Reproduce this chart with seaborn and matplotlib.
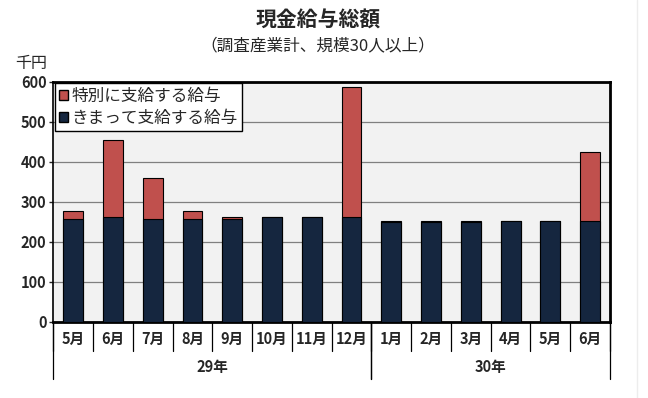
import numpy as np
import pandas as pd
import matplotlib
matplotlib.use('Agg')
import matplotlib.pyplot as plt
import seaborn as sns
from matplotlib.patches import Patch
from matplotlib.lines import Line2D

# 月・年ラベル
months = ['5月', '6月', '7月', '8月', '9月', '10月', '11月', '12月',
          '1月', '2月', '3月', '4月', '5月', '6月']
years = ['29年'] * 8 + ['30年'] * 6
# きまって支給する給与（千円）
regular = [258, 263, 258, 258, 258, 261, 261, 261, 249, 249, 249, 251, 251, 253]
# 特別に支給する給与（千円）
special = [18, 192, 102, 18, 3, 2, 2, 326, 4, 2, 4, 2, 2, 171]

df = pd.DataFrame({'key': [y + m for y, m in zip(years, months)],
                   'regular': regular, 'special': special})
df['total'] = df['regular'] + df['special']

red = '#c0504d'
navy = '#15263f'

sns.set_style('white')
plt.rcParams['font.family'] = ['Noto Sans CJK JP', 'DejaVu Sans']

fig = plt.figure(figsize=(6.48, 3.98), dpi=100)
ax = fig.add_axes([0.0823, 0.1917, 0.859, 0.603])
ax.set_facecolor('#f2f2f2')

sns.barplot(data=df, x='key', y='total', color=red, width=0.5,
            edgecolor='black', linewidth=0.8, saturation=1, ax=ax, zorder=2)
sns.barplot(data=df, x='key', y='regular', color=navy, width=0.5,
            edgecolor='black', linewidth=0.8, saturation=1, ax=ax, zorder=3)

ax.set_ylim(0, 600)
ax.set_xlim(-0.5, len(months) - 0.5)
ax.set_yticks(range(0, 601, 100))
ax.tick_params(axis='y', labelsize=10.5, length=3, width=1, direction='out',
               left=True, pad=2)
for t in ax.get_yticklabels():
    t.set_fontweight('bold')
ax.yaxis.grid(True, color='#808080', linewidth=0.9, zorder=0)
ax.set_axisbelow(True)
ax.set_xlabel('')
ax.set_ylabel('')
ax.set_xticks([])
for s in ['top', 'right', 'bottom']:
    ax.spines[s].set_linewidth(2)
    ax.spines[s].set_color('black')
ax.spines['left'].set_linewidth(1.2)
ax.spines['left'].set_color('black')

# 月ラベルと区切り線
trans = ax.get_xaxis_transform()
for i, m in enumerate(months):
    ax.text(i, -0.07, m, transform=trans, ha='center', va='center',
            fontsize=10.5, fontweight='bold')
for i in range(len(months) + 1):
    ax.plot([i - 0.5, i - 0.5], [0, -0.12], transform=trans, color='black',
            linewidth=0.9, clip_on=False)
# 年ラベル
for yr in ['29年', '30年']:
    idx = [i for i, y in enumerate(years) if y == yr]
    ax.text(np.mean(idx), -0.19, yr, transform=trans, ha='center',
            va='center', fontsize=10.5, fontweight='bold')
    for b in [idx[0] - 0.5, idx[-1] + 0.5]:
        ax.plot([b, b], [0, -0.24], transform=trans, color='black',
                linewidth=0.9, clip_on=False)

leg = ax.legend(handles=[Patch(facecolor=red, edgecolor='black', label='特別に支給する給与'),
                         Patch(facecolor=navy, edgecolor='black', label='きまって支給する給与')],
                loc='upper left', bbox_to_anchor=(0.0, 1.0), frameon=True, fancybox=False,
                fontsize=12, handlelength=0.55, handleheight=0.55, handletextpad=0.2,
                borderpad=0.25, labelspacing=0.3, borderaxespad=0.1)
leg.get_frame().set_edgecolor('black')
leg.get_frame().set_linewidth(1)
leg.get_frame().set_facecolor('white')
leg.get_frame().set_alpha(1)

fig.text(0.491, 0.95, '現金給与総額', ha='center', va='center',
         fontsize=15, fontweight='bold')
fig.text(0.491, 0.886, '（調査産業計、規模30人以上）', ha='center', va='center',
         fontsize=12)
fig.text(0.048, 0.84, '千円', ha='center', va='center', fontsize=11.5)

# 右端の薄い枠線
fig.add_artist(Line2D([0.983, 0.983], [0, 1], transform=fig.transFigure,
                      color='#ededed', linewidth=1))

fig.savefig('out.png', dpi=100)
